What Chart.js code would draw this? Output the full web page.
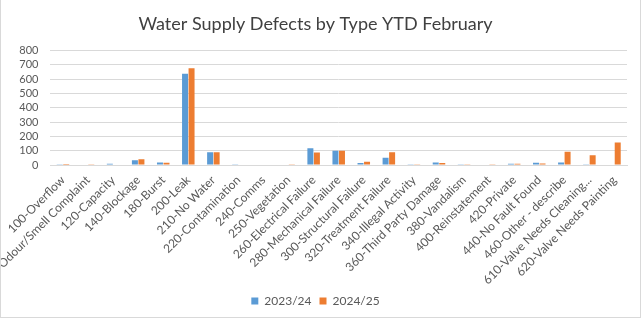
<!DOCTYPE html>
<html>
<head>
<meta charset="utf-8">
<script src="https://cdn.jsdelivr.net/npm/chart.js@4/dist/chart.umd.min.js"></script>
<style>
  body { margin: 0; background: #fff; }
  #wrap { position: relative; width: 641px; height: 318px; box-sizing: border-box; border: 1px solid #d9d9d9; border-top: none; }
</style>
</head>
<body>
<div id="wrap"><canvas id="defectsChart"></canvas></div>
<script>
// Defect categories (x axis)
const categories = [
    '100-Overflow', '110-Odour/Smell Complaint', '120-Capacity', '140-Blockage', '180-Burst',
    '200-Leak', '210-No Water', '220-Contamination', '240-Comms', '250-Vegetation',
    '260-Electrical Failure', '280-Mechanical Failure', '300-Structural Failure', '320-Treatment Failure',
    '340-Illegal Activity', '360-Third Party Damage', '380-Vandalism', '400-Reinstatement',
    '420-Private', '440-No Fault Found', '460-Other - describe', '610-Valve Needs Cleaning...',
    '620-Valve Needs Painting'
];

// Series values
const fy2324 = [2, 3, 8, 33, 18, 638, 90, 2, 3, 3, 118, 100, 14, 50, 1, 18, 2, 3, 8, 16, 18, 1, 0];
const fy2425 = [7, 1, 0, 41, 15, 677, 90, 3, 4, 2, 87, 100, 22, 89, 1, 14, 2, 2, 9, 11, 93, 68, 157];

// Y axis ticks
const yMin = 0;
const yMax = 800;
const yStep = 100;

const textGrey = '#595959';
const gridGrey = '#d9d9d9';
const fontFamily = "Lato, 'Open Sans', sans-serif";

new Chart(document.getElementById('defectsChart').getContext('2d'), {
    type: 'bar',
    data: {
        labels: categories,
        datasets: [
            {
                label: '2023/24',
                data: fy2324,
                backgroundColor: '#5B9BD5',
                barPercentage: 0.92,
                categoryPercentage: 0.52
            },
            {
                label: '2024/25',
                data: fy2425,
                backgroundColor: '#ED7D31',
                barPercentage: 0.92,
                categoryPercentage: 0.52
            }
        ]
    },
    options: {
        responsive: true,
        maintainAspectRatio: false,
        animation: false,
        layout: { padding: { left: 3, right: 13, top: 4, bottom: 0 } },
        plugins: {
            title: {
                display: true,
                text: 'Water Supply Defects by Type YTD February',
                color: '#404040',
                font: { family: fontFamily, size: 18, weight: 'normal' },
                padding: { top: 9, bottom: 16 }
            },
            legend: {
                position: 'bottom',
                labels: {
                    color: textGrey,
                    font: { family: fontFamily, size: 12 },
                    boxWidth: 7,
                    boxHeight: 7,
                    padding: 8
                }
            },
            tooltip: { enabled: false }
        },
        scales: {
            x: {
                grid: { display: false, drawTicks: false },
                border: { color: gridGrey },
                afterFit: (scale) => { scale.height = 122; },
                ticks: {
                    color: textGrey,
                    font: { family: fontFamily, size: 12 },
                    minRotation: 45,
                    maxRotation: 45,
                    autoSkip: false,
                    padding: 8
                }
            },
            y: {
                min: yMin,
                max: yMax,
                grid: { color: gridGrey, drawTicks: false },
                border: { display: false },
                afterFit: (scale) => { scale.width = 44; },
                ticks: {
                    stepSize: yStep,
                    autoSkip: false,
                    color: textGrey,
                    font: { family: fontFamily, size: 11 },
                    padding: 12
                }
            }
        }
    }
});
</script>
</body>
</html>
